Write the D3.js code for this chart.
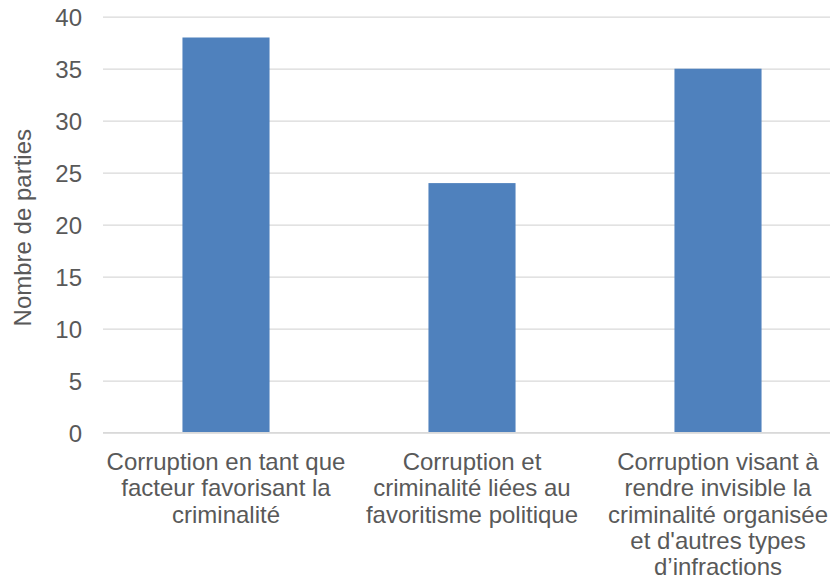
<!DOCTYPE html>
<html>
<head>
<meta charset="utf-8">
<script src="https://cdn.jsdelivr.net/npm/d3@7"></script>
<style>
  html, body { margin: 0; padding: 0; background: #ffffff; }
  svg { display: block; font-family: "Liberation Sans", Arial, sans-serif; }
</style>
</head>
<body>
<svg id="chart" width="830" height="582"></svg>
<script>
// Category labels, one entry per bar, already split into display lines
const categories = [
  ["Corruption en tant que", "facteur favorisant la", "criminalité"],
  ["Corruption et", "criminalité liées au", "favoritisme politique"],
  ["Corruption visant à", "rendre invisible la", "criminalité organisée", "et d'autres types", "d’infractions"]
];
const values = [38, 24, 35];
const yTicks = [0, 5, 10, 15, 20, 25, 30, 35, 40];
const yTitle = "Nombre de parties";

const W = 830, H = 582;
const plot = { left: 103, right: 841, top: 16.7, bottom: 432.7 };
const textColor = "#595959";
const gridColor = "#d9d9d9";
const barColor = "#4f81bd";

const svg = d3.select("#chart");
svg.append("rect").attr("width", W).attr("height", H).attr("fill", "#ffffff");

const keys = categories.map(c => c.join(" "));

const x = d3.scaleBand()
  .domain(keys)
  .range([plot.left, plot.right])
  .paddingInner(0.646)
  .paddingOuter(0.323);

const y = d3.scaleLinear()
  .domain([0, 40])
  .range([plot.bottom, plot.top]);

// Horizontal gridlines with value labels
const yAxis = d3.axisLeft(y)
  .tickValues(yTicks)
  .tickSize(-(plot.right - plot.left))
  .tickPadding(21)
  .tickFormat(d3.format("d"));

const gy = svg.append("g")
  .attr("transform", `translate(${plot.left},0)`)
  .call(yAxis);
gy.select(".domain").remove();
gy.selectAll(".tick line").attr("stroke", gridColor).attr("stroke-width", 1.3);
gy.selectAll(".tick text")
  .attr("fill", textColor)
  .attr("font-size", 24)
  .attr("dy", "0.35em");

// Bars
svg.append("g").selectAll("rect")
  .data(values)
  .join("rect")
  .attr("x", (d, i) => x(keys[i]))
  .attr("y", d => y(d))
  .attr("width", x.bandwidth())
  .attr("height", d => y(0) - y(d))
  .attr("fill", barColor);

// Baseline redrawn over the bars
svg.append("line")
  .attr("x1", plot.left).attr("x2", plot.right)
  .attr("y1", y(0)).attr("y2", y(0))
  .attr("stroke", gridColor).attr("stroke-width", 1.3);

// Category labels, centred under each bar
const lineGap = 26.3;
const firstBaseline = 470;
const gx = svg.append("g");
categories.forEach((lines, i) => {
  const cx = x(keys[i]) + x.bandwidth() / 2;
  const t = gx.append("text")
    .attr("text-anchor", "middle")
    .attr("font-size", 24)
    .attr("fill", textColor);
  lines.forEach((ln, j) => {
    t.append("tspan")
      .attr("x", cx)
      .attr("y", firstBaseline + j * lineGap)
      .text(ln);
  });
});

// Vertical axis title
svg.append("text")
  .attr("transform", `translate(31,${(plot.top + plot.bottom) / 2 + 3}) rotate(-90)`)
  .attr("text-anchor", "middle")
  .attr("font-size", 24)
  .attr("fill", textColor)
  .text(yTitle);
</script>
</body>
</html>
